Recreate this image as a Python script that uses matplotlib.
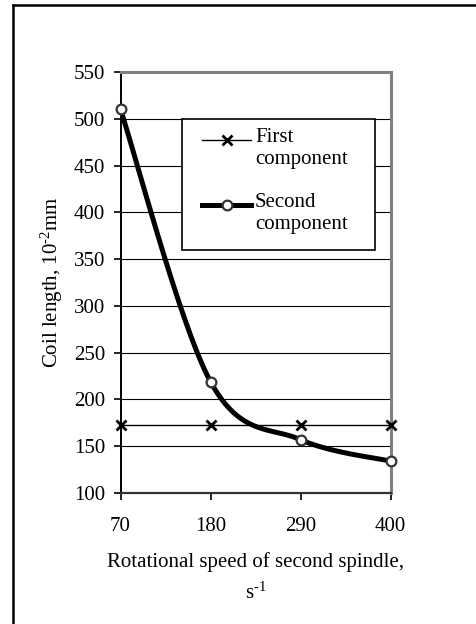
import numpy as np
import matplotlib
matplotlib.use('Agg')
from matplotlib import pyplot as plt
from matplotlib.lines import Line2D
from matplotlib.patches import Rectangle

# 数据
speeds = [70, 180, 290, 400]
first_component = [173, 173, 173, 173]
second_component = [510, 219, 157, 134]
y_ticks = [100, 150, 200, 250, 300, 350, 400, 450, 500, 550]

W, H = 476, 624


def px(x, y):
    """像素坐标 -> figure 坐标"""
    return x / W, 1 - y / H


def smooth_curve(xs, ys, n=40):
    """Excel 风格的平滑曲线 (Catmull-Rom)"""
    xs = np.asarray(xs, float)
    ys = np.asarray(ys, float)
    qx = np.concatenate([[xs[0]], xs, [xs[-1]]])
    qy = np.concatenate([[ys[0]], ys, [ys[-1]]])
    out_x, out_y = [], []
    for i in range(1, len(qx) - 2):
        p0 = np.array([qx[i - 1], qy[i - 1]])
        p1 = np.array([qx[i], qy[i]])
        p2 = np.array([qx[i + 1], qy[i + 1]])
        p3 = np.array([qx[i + 2], qy[i + 2]])
        c1 = p1 + (p2 - p0) / 6.0
        c2 = p2 - (p3 - p1) / 6.0
        t = np.linspace(0, 1, n)[:, None]
        b = ((1 - t) ** 3) * p1 + 3 * ((1 - t) ** 2) * t * c1 + 3 * (1 - t) * t ** 2 * c2 + t ** 3 * p2
        out_x.extend(b[:, 0])
        out_y.extend(b[:, 1])
    return out_x, out_y


plt.rcParams['font.family'] = ['Liberation Serif', 'DejaVu Serif']
plt.rcParams['font.size'] = 15
plt.rcParams['mathtext.fontset'] = 'custom'
plt.rcParams['mathtext.rm'] = 'Liberation Serif'
plt.rcParams['mathtext.it'] = 'Liberation Serif:italic'
plt.rcParams['axes.unicode_minus'] = False

fig = plt.figure(figsize=(W / 100, H / 100), dpi=100)
ax = fig.add_axes([120.5 / W, 1 - 493 / H, 270 / W, 421 / H])

# 网格线
for v in y_ticks[1:-1]:
    ax.axhline(v, color='black', lw=0.8, zorder=1)

first_style = dict(color='black', lw=1.0)
first_marker = dict(marker='x', markersize=7, markeredgewidth=2, markeredgecolor='black')
second_style = dict(color='black', lw=3.6)
second_marker = dict(marker='o', markersize=7, markerfacecolor='white',
                     markeredgecolor='#333333', markeredgewidth=1.6)

ax.plot(speeds, first_component, zorder=3, clip_on=False, **first_style, **first_marker)

sx, sy = smooth_curve(speeds, second_component)
ax.plot(sx, sy, zorder=4, solid_capstyle='round', **second_style)
ax.plot(speeds, second_component, linestyle='none', zorder=5, clip_on=False, **second_marker)

ax.set_xlim(70, 400)
ax.set_ylim(100, 550)
ax.set_xticks(speeds)
ax.set_yticks(y_ticks)
ax.tick_params(direction='out', length=5, width=1.2, colors='black', labelsize=15)
ax.tick_params(axis='y', pad=6)
ax.tick_params(axis='x', pad=12)

for side in ['top', 'right']:
    ax.spines[side].set_color('#808080')
    ax.spines[side].set_linewidth(2.2)
ax.spines['left'].set_linewidth(1.4)
ax.spines['bottom'].set_linewidth(1.6)
ax.spines['bottom'].set_color('#333333')

# 坐标轴标题
fig.text(*px(52, 282), 'Coil length, 10$^{\\text{-2}}$mm', rotation=90,
         ha='center', va='center', fontsize=15)
fig.text(*px(255.5, 562), 'Rotational speed of second spindle,',
         ha='center', va='center', fontsize=15)
fig.text(*px(255.5, 593), 's$^{\\text{-1}}$', ha='center', va='center', fontsize=15)

# 图例
lx0, lx1, ly0, ly1 = 182, 375, 119, 250
x0, y1 = px(lx0, ly1)
x1, y0 = px(lx1, ly0)
fig.add_artist(Rectangle((x0, y1), x1 - x0, y0 - y1, transform=fig.transFigure,
                         facecolor='white', edgecolor='black', lw=1.2, zorder=6))
legend_items = [
    ('First\ncomponent', 140, first_style, first_marker),
    ('Second\ncomponent', 205, second_style, second_marker),
]
for label, yy, style, mk in legend_items:
    hx0, hy = px(202, yy)
    hx1, _ = px(251, yy)
    fig.add_artist(Line2D([hx0, hx1], [hy, hy], transform=fig.transFigure, zorder=7, **style))
    fig.add_artist(Line2D([(hx0 + hx1) / 2], [hy], transform=fig.transFigure, zorder=8,
                          linestyle='none', **mk))
    tx, ty = px(255, yy - 12)
    fig.text(tx, ty, label, ha='left', va='top', fontsize=15, linespacing=1.2, zorder=8)

# 外框
fig.add_artist(Line2D([12.5 / W, 12.5 / W], [0, 1 - 5 / H], color='black', lw=1.8,
                      transform=fig.transFigure))
fig.add_artist(Line2D([12.5 / W, 1], [1 - 5 / H, 1 - 5 / H], color='black', lw=1.8,
                      transform=fig.transFigure))

plt.savefig('out.png', dpi=100)
